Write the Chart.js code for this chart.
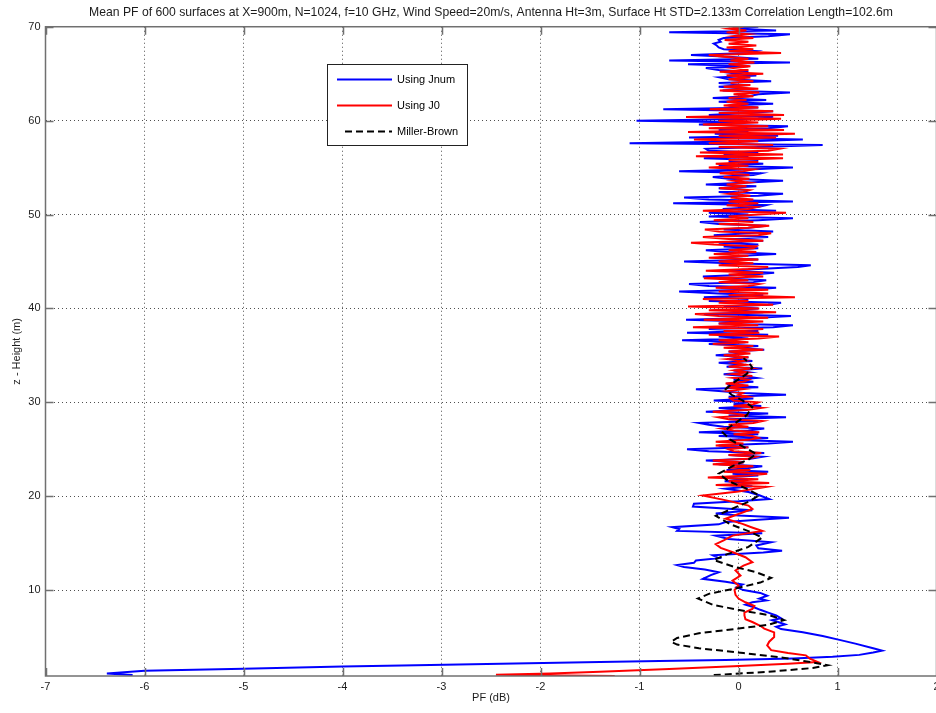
<!DOCTYPE html>
<html>
<head>
<meta charset="utf-8">
<title>Mean PF vs height</title>
<script src="https://cdn.jsdelivr.net/npm/chart.js@4/dist/chart.umd.min.js"></script>
<style>
  html, body { margin: 0; padding: 0; background: #fff; overflow: hidden; width: 936px; height: 713px; }
  canvas { display: block; }
</style>
</head>
<body>
<canvas id="pf" width="982" height="713"></canvas>
<script>
// Tick values for both axes
const pfTicks = [-7, -6, -5, -4, -3, -2, -1, 0, 1, 2];
const heightTicks = [10, 20, 30, 40, 50, 60, 70];

// Lower part of each curve: [height (m), PF (dB)]
const jnumLow = [
  [0.95, -6.12], [1.12, -6.38], [1.4, -6.0], [1.63, -5.0], [1.85, -4.0], [1.97, -3.4],
  [2.15, -2.4], [2.33, -1.4], [2.44, -0.8], [2.55, -0.13], [2.72, 0.55], [2.9, 0.95],
  [3.1, 1.22], [3.35, 1.36], [3.55, 1.45], [3.8, 1.36], [4.3, 1.18], [4.7, 1.02],
  [5.1, 0.85], [5.5, 0.65], [5.85, 0.43], [6.1, 0.38], [6.35, 0.47], [6.6, 0.4],
  [6.8, 0.34], [7.0, 0.43], [7.3, 0.38], [7.6, 0.3], [7.9, 0.22], [8.2, 0.15],
  [8.45, 0.07], [8.7, 0.14], [8.9, 0.28], [9.1, 0.21], [9.4, 0.29], [9.7, 0.22],
  [10.0, 0.05], [10.3, -0.02], [10.6, 0.04], [10.9, -0.13], [11.2, -0.36], [11.6, -0.28],
  [11.9, -0.2], [12.2, -0.34], [12.45, -0.55], [12.66, -0.62], [12.9, -0.45], [13.15, -0.43],
  [13.4, -0.2], [13.7, -0.26], [14.0, 0.25], [14.2, 0.44], [14.45, 0.2], [14.75, 0.18],
  [15.1, 0.33], [15.45, -0.1], [15.8, -0.23], [16.06, 0.24], [16.3, -0.62], [16.5, -0.6],
  [16.7, -0.67], [17.0, -0.2], [17.25, -0.13], [17.5, 0.2], [17.7, 0.51], [17.95, 0.0],
  [18.15, -0.23], [18.5, 0.14], [18.9, -0.46], [19.2, -0.45], [19.45, 0.0], [19.7, 0.31],
  [20.1, 0.21], [20.45, 0.1], [20.8, -0.13], [21.05, 0.14]
];

const j0Low = [
  [0.85, -1.25], [0.92, -2.0], [0.98, -2.45], [1.12, -1.9], [1.3, -1.4], [1.6, -0.7],
  [1.9, -0.05], [2.15, 0.5], [2.35, 0.8], [2.7, 0.72], [3.05, 0.68], [3.3, 0.5],
  [3.6, 0.33], [4.1, 0.29], [4.5, 0.31], [5.0, 0.36], [5.5, 0.36], [5.9, 0.26],
  [6.2, 0.22], [6.6, 0.14], [6.9, 0.07], [7.3, 0.06], [7.6, 0.06], [8.0, 0.14],
  [8.3, 0.16], [8.7, 0.07], [9.1, 0.0], [9.5, -0.03], [10.0, -0.04], [10.5, 0.0],
  [11.0, -0.06], [11.55, 0.02], [12.1, -0.03], [12.6, 0.05], [12.97, 0.14], [13.5, 0.07],
  [14.0, -0.05], [14.5, -0.18], [14.9, -0.23], [15.3, -0.15], [15.8, -0.06], [16.3, 0.24],
  [16.7, 0.13], [17.05, 0.04], [17.6, -0.13], [18.1, 0.0], [18.65, 0.14], [19.0, 0.1],
  [19.5, -0.1], [20.07, -0.36], [20.5, 0.0], [21.0, 0.28]
];

const millerBrown = [
  [0.95, -0.25], [1.3, 0.3], [1.7, 0.75], [2.0, 0.9], [2.3, 0.75], [2.8, 0.45],
  [3.3, 0.05], [3.8, -0.4], [4.2, -0.62], [4.5, -0.68], [4.9, -0.62], [5.4, -0.4],
  [5.9, 0.0], [6.3, 0.3], [6.8, 0.46], [7.3, 0.32], [7.8, 0.05], [8.4, -0.25],
  [9.1, -0.41], [9.6, -0.3], [10.2, -0.02], [10.8, 0.22], [11.3, 0.33], [11.9, 0.18],
  [12.5, -0.05], [13.2, -0.25], [13.8, -0.12], [14.6, 0.1], [15.6, 0.24], [16.2, 0.12],
  [17.0, -0.08], [17.9, -0.23], [18.6, -0.08], [19.4, 0.1], [20.1, 0.21], [20.8, 0.08],
  [21.6, -0.1], [22.4, -0.2], [23.2, -0.06], [23.9, 0.1], [24.5, 0.18], [25.2, 0.06],
  [26.0, -0.08], [26.8, -0.16], [27.6, -0.06], [28.6, 0.08], [29.5, 0.14], [30.2, 0.04],
  [30.8, -0.07], [31.4, -0.13], [32.1, -0.05], [33.0, 0.08], [33.7, 0.14], [34.3, 0.1],
  [34.7, 0.05]
];

// Upper part: common height samples (m), one row per metre
const upperHeights = [
  21.2, 21.4, 21.6, 21.8,
  22, 22.2, 22.4, 22.6, 22.8,
  23, 23.2, 23.4, 23.6, 23.8,
  24, 24.2, 24.4, 24.6, 24.8,
  25, 25.2, 25.4, 25.6, 25.8,
  26, 26.2, 26.4, 26.6, 26.8,
  27, 27.2, 27.4, 27.6, 27.8,
  28, 28.2, 28.4, 28.6, 28.8,
  29, 29.2, 29.4, 29.6, 29.8,
  30, 30.2, 30.4, 30.6, 30.8,
  31, 31.2, 31.4, 31.6, 31.8,
  32, 32.2, 32.4, 32.6, 32.8,
  33, 33.2, 33.4, 33.6, 33.8,
  34, 34.2, 34.4, 34.6, 34.8,
  35, 35.2, 35.4, 35.6, 35.8,
  36, 36.2, 36.4, 36.6, 36.8,
  37, 37.2, 37.4, 37.6, 37.8,
  38, 38.2, 38.4, 38.6, 38.8,
  39, 39.2, 39.4, 39.6, 39.8,
  40, 40.2, 40.4, 40.6, 40.8,
  41, 41.2, 41.4, 41.6, 41.8,
  42, 42.2, 42.4, 42.6, 42.8,
  43, 43.2, 43.4, 43.6, 43.8,
  44, 44.2, 44.4, 44.6, 44.8,
  45, 45.2, 45.4, 45.6, 45.8,
  46, 46.2, 46.4, 46.6, 46.8,
  47, 47.2, 47.4, 47.6, 47.8,
  48, 48.2, 48.4, 48.6, 48.8,
  49, 49.2, 49.4, 49.6, 49.8,
  50, 50.2, 50.4, 50.6, 50.8,
  51, 51.2, 51.4, 51.6, 51.8,
  52, 52.2, 52.4, 52.6, 52.8,
  53, 53.2, 53.4, 53.6, 53.8,
  54, 54.2, 54.4, 54.6, 54.8,
  55, 55.2, 55.4, 55.6, 55.8,
  56, 56.2, 56.4, 56.6, 56.8,
  57, 57.2, 57.4, 57.6, 57.8,
  58, 58.2, 58.4, 58.6, 58.8,
  59, 59.2, 59.4, 59.6, 59.8,
  60, 60.2, 60.4, 60.6, 60.8,
  61, 61.2, 61.4, 61.6, 61.8,
  62, 62.2, 62.4, 62.6, 62.8,
  63, 63.2, 63.4, 63.6, 63.8,
  64, 64.2, 64.4, 64.6, 64.8,
  65, 65.2, 65.4, 65.6, 65.8,
  66, 66.2, 66.4, 66.6, 66.8,
  67, 67.2, 67.4, 67.6, 67.8,
  68, 68.2, 68.4, 68.6, 68.8,
  69, 69.2, 69.4, 69.6, 69.8,
  70
];

// PF (dB) of the Jnum curve at upperHeights
const jnumUpper = [
  -0.1, 0.14, -0.14, 0.1,
  -0.18, 0.2, -0.06, 0.3, -0.12,
  0.1, 0.24, -0.2, 0.05, -0.33,
  0.12, 0.24, -0.1, 0.26, -0.3,
  -0.52, 0.1, -0.2, 0.3, 0.55,
  -0.1, 0.3, -0.2, 0.2, -0.4,
  0.1, 0.26, -0.15, -0.3, -0.4,
  0.2, -0.1, 0.48, -0.1, 0.3,
  -0.33, 0.1, -0.2, 0.23, -0.05,
  0.1, -0.25, 0.15, -0.1, 0.48,
  0.05, -0.2, -0.43, 0.2, -0.1,
  -0.11, 0.15, -0.05, 0.18, 0.05,
  -0.15, 0.1, -0.05, 0.24, -0.12,
  0.05, -0.2, 0.14, -0.1, 0.1,
  -0.23, 0.05, -0.1, 0.26, -0.05,
  0.2, -0.3, 0.07, -0.57, 0.1,
  -0.2, 0.3, -0.52, 0.2, -0.3,
  0.35, 0.55, -0.2, 0.1, -0.53,
  0.2, 0.53, -0.35, 0.25, -0.1,
  0.2, -0.15, 0.3, 0.43, -0.3,
  0.1, -0.35, 0.25, -0.2, -0.6,
  0.1, 0.38, -0.3, -0.5, 0.15,
  0.28, -0.2, -0.36, 0.15, 0.36,
  -0.15, 0.2, 0.6, 0.73, -0.1,
  -0.55, 0.2, -0.2, 0.05, 0.38,
  -0.1, -0.33, 0.2, -0.15, 0.2,
  -0.2, 0.25, -0.1, 0.3, -0.25,
  0.1, 0.35, -0.15, 0.1, 0.28,
  -0.2, -0.39, 0.2, 0.55, -0.3,
  0.1, -0.3, 0.38, -0.16, 0.2,
  0.28, -0.66, 0.55, -0.3, -0.55,
  0.2, 0.45, -0.2, 0.1, -0.2,
  0.18, -0.33, 0.1, 0.45, -0.1,
  -0.26, 0.15, 0.23, -0.6, 0.1,
  0.55, -0.2, 0.25, -0.1, 0.2,
  -0.35, 0.1, -0.15, 0.2, -0.3,
  -0.33, 0.2, 0.85, -1.1, 0.1,
  0.65, -0.5, 0.4, -0.24, 0.1,
  -0.2, 0.3, 0.5, -0.4, 0.05,
  -1.03, 0.2, 0.35, -0.3, 0.1,
  0.35, -0.76, 0.2, -0.1, 0.35,
  -0.2, 0.28, -0.26, 0.1, 0.2,
  0.52, -0.16, 0.1, -0.2, 0.1,
  -0.2, 0.33, -0.1, -0.19, 0.18,
  -0.05, 0.1, -0.2, -0.33, 0.1,
  -0.51, 0.52, -0.7, 0.2, -0.1,
  -0.48, 0.1, 0.18, -0.15, -0.2,
  -0.22, -0.25, -0.18, -0.2, -0.15,
  0.3, 0.52, -0.7, 0.38, -0.05,
  0.2
];

// PF (dB) of the J0 curve at upperHeights
const j0Upper = [
  -0.23, 0.31, -0.1, 0.2,
  -0.31, 0.1, 0.29, -0.15, 0.12,
  -0.1, 0.15, -0.26, 0.05, -0.26,
  0.1, 0.17, -0.1, 0.23, -0.05,
  -0.1, 0.1, -0.23, 0.05, -0.23,
  0.1, 0.2, 0.14, -0.05, 0.21,
  -0.05, -0.16, 0.1, -0.1, 0.15,
  0.24, -0.1, -0.2, 0.1, -0.05,
  -0.26, 0.1, 0.23, -0.05, 0.15,
  0.2, -0.05, -0.08, 0.1, 0.0,
  0.04, -0.1, 0.05, -0.12, 0.1,
  -0.13, 0.05, 0.1, -0.05, 0.14,
  -0.06, 0.08, -0.04, 0.12, -0.1,
  0.08, -0.05, 0.06, -0.11, 0.1,
  -0.15, 0.12, -0.1, 0.25, -0.15,
  0.15, -0.26, 0.1, -0.2, 0.2,
  0.41, -0.3, 0.21, -0.15, 0.25,
  -0.46, 0.2, -0.2, 0.25, -0.35,
  0.3, -0.2, -0.44, 0.38, -0.3,
  0.21, -0.51, 0.35, -0.2, 0.1,
  -0.36, 0.57, -0.1, 0.3, -0.2,
  0.3, -0.23, 0.1, 0.2, -0.2,
  0.1, -0.35, 0.25, -0.1, 0.25,
  -0.33, 0.1, 0.3, -0.2, 0.15,
  -0.2, 0.2, -0.3, 0.1, -0.25,
  0.18, -0.1, 0.15, 0.18, -0.25,
  -0.48, 0.25, -0.1, -0.36, 0.2,
  0.33, -0.2, -0.34, 0.1, 0.31,
  -0.2, 0.15, -0.25, 0.1, -0.1,
  0.2, 0.48, -0.36, 0.1, 0.18,
  -0.12, 0.2, -0.1, 0.15, -0.08,
  0.12, -0.1, 0.05, 0.11, -0.19,
  0.08, -0.12, 0.1, -0.05, 0.11,
  -0.15, 0.11, -0.19, 0.05, 0.15,
  -0.3, 0.1, -0.23, 0.2, -0.1,
  0.45, -0.43, 0.45, -0.39, 0.3,
  0.41, -0.2, 0.35, -0.3, 0.2,
  -0.45, 0.38, -0.2, 0.57, -0.51,
  0.46, -0.3, 0.3, -0.36, 0.2,
  -0.2, 0.43, -0.53, 0.46, -0.2,
  0.35, -0.29, 0.2, -0.15, 0.1,
  -0.12, 0.08, -0.1, 0.15, -0.05,
  0.21, -0.19, 0.2, -0.15, 0.12,
  -0.08, 0.15, -0.1, 0.12, -0.12,
  0.25, -0.19, 0.1, -0.05, 0.12,
  -0.1, 0.16, -0.08, 0.1, -0.15,
  -0.3, 0.43, -0.1, 0.15, -0.12,
  0.18, -0.1, 0.1, -0.14, 0.15,
  -0.05, 0.1, -0.12, 0.08, -0.1,
  0.05
];

const FONT = "'Liberation Sans', Arial, Helvetica, sans-serif";
const TEXT = '#1c1c1c';
const AXIS = '#707070';

// PF on the horizontal axis, height on the vertical axis
const fromPairs = pairs => pairs.map(([z, pf]) => ({ x: pf, y: z }));
const fromGrid = (heights, pfs) => heights.map((z, i) => ({ x: pfs[i], y: z }));

const jnumData = fromPairs(jnumLow).concat(fromGrid(upperHeights, jnumUpper));
const j0Data = fromPairs(j0Low).concat(fromGrid(upperHeights, j0Upper));
const mbData = fromPairs(millerBrown);

// Closed axes box with inward tick marks on all four sides
const axesBox = {
  id: 'axesBox',
  afterDatasetsDraw(chart) {
    const { ctx, chartArea: a, scales: { x, y } } = chart;
    const tl = 8;
    ctx.save();
    ctx.strokeStyle = AXIS;
    ctx.lineWidth = 1.5;
    ctx.strokeRect(a.left, a.top, a.right - a.left, a.bottom - a.top);
    ctx.beginPath();
    x.ticks.forEach(t => {
      const p = Math.round(x.getPixelForValue(t.value)) + 0.5;
      ctx.moveTo(p, a.bottom); ctx.lineTo(p, a.bottom - tl);
      ctx.moveTo(p, a.top); ctx.lineTo(p, a.top + tl);
    });
    y.ticks.forEach(t => {
      const p = Math.round(y.getPixelForValue(t.value)) + 0.5;
      ctx.moveTo(a.left, p); ctx.lineTo(a.left + tl, p);
      ctx.moveTo(a.right, p); ctx.lineTo(a.right - tl, p);
    });
    ctx.stroke();
    ctx.restore();
  }
};

// Boxed legend inside the plot
const boxedLegend = {
  id: 'boxedLegend',
  afterDraw(chart) {
    const ctx = chart.ctx;
    const x0 = 327.5, y0 = 64.5, w = 140, h = 81;
    ctx.save();
    ctx.fillStyle = '#fff';
    ctx.fillRect(x0, y0, w, h);
    ctx.strokeStyle = '#222';
    ctx.lineWidth = 1;
    ctx.strokeRect(x0, y0, w, h);
    chart.data.datasets.forEach((ds, i) => {
      const ly = 79.5 + i * 26;
      ctx.strokeStyle = ds.borderColor;
      ctx.lineWidth = 2;
      ctx.setLineDash(ds.borderDash || []);
      ctx.beginPath();
      ctx.moveTo(ds.borderDash ? 345 : 337, ly);
      ctx.lineTo(392, ly);
      ctx.stroke();
      ctx.setLineDash([]);
      ctx.fillStyle = '#000';
      ctx.font = '11px ' + FONT;
      ctx.textBaseline = 'middle';
      ctx.textAlign = 'left';
      ctx.fillText(ds.label, 397, ly + 0.5);
    });
    ctx.restore();
  }
};

Chart.defaults.font.family = FONT;
Chart.defaults.font.size = 11;
Chart.defaults.color = TEXT;

new Chart(document.getElementById('pf'), {
  type: 'scatter',
  data: {
    datasets: [
      { label: 'Using Jnum', data: jnumData, borderColor: '#0000ff', backgroundColor: '#0000ff',
        borderWidth: 2, showLine: true, pointRadius: 0, tension: 0, order: 3 },
      { label: 'Using J0', data: j0Data, borderColor: '#ff0000', backgroundColor: '#ff0000',
        borderWidth: 2, showLine: true, pointRadius: 0, tension: 0, order: 2 },
      { label: 'Miller-Brown', data: mbData, borderColor: '#000000', backgroundColor: '#000000',
        borderWidth: 2, borderDash: [7, 4], showLine: true, pointRadius: 0, tension: 0, order: 1 }
    ]
  },
  options: {
    responsive: false,
    animation: false,
    layout: { padding: { left: 0, right: 45.5, top: 0, bottom: 0 } },
    plugins: {
      legend: { display: false },
      tooltip: { enabled: false },
      title: {
        display: true,
        fullSize: false,
        text: 'Mean PF of 600 surfaces at X=900m, N=1024, f=10 GHz, Wind Speed=20m/s, Antenna Ht=3m, Surface Ht STD=2.133m Correlation Length=102.6m',
        color: TEXT,
        font: { size: 12.2, weight: 'normal', family: FONT },
        padding: { top: 5.5, bottom: 6.6 }
      }
    },
    scales: {
      x: {
        type: 'linear',
        min: -7,
        max: 2,
        afterBuildTicks: s => { s.ticks = pfTicks.map(v => ({ value: v })); },
        afterFit: s => { s.height = 37; },
        grid: { color: '#505050', lineWidth: 1, drawTicks: false },
        border: { display: false, dash: [1, 3] },
        ticks: { padding: 4, maxRotation: 0, autoSkip: false, color: TEXT, callback: v => String(v) },
        title: { display: true, text: 'PF (dB)', color: TEXT, padding: { top: 0, bottom: 8 } }
      },
      y: {
        type: 'linear',
        min: 0.85,
        max: 70,
        afterBuildTicks: s => { s.ticks = heightTicks.map(v => ({ value: v })); },
        afterFit: s => { s.width = 45.5; },
        grid: { color: '#505050', lineWidth: 1, drawTicks: false },
        border: { display: false, dash: [1, 3] },
        ticks: { padding: 5, color: TEXT, callback: v => String(v) },
        title: { display: true, text: 'z - Height (m)', color: TEXT, padding: { top: 10, bottom: 0 } }
      }
    }
  },
  plugins: [axesBox, boxedLegend]
});
</script>
</body>
</html>
